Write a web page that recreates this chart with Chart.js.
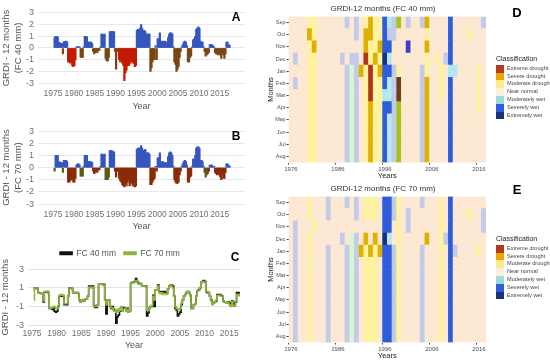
<!DOCTYPE html>
<html>
<head>
<meta charset="utf-8">
<script src="https://cdn.jsdelivr.net/npm/chart.js@4.4.0/dist/chart.umd.min.js"></script>
<style>
  body { margin: 0; width: 550px; height: 360px; position: relative; overflow: hidden; background: #fff;
         font-family: "Liberation Sans", Arial, sans-serif; }
  canvas, .lbl, .ttl, .leg { position: absolute; }
  .lbl { font-weight: bold; color: #000; transform: translate(-50%, -50%); }
  .ttl { font-size: 8px; color: #333; transform: translate(-50%, -50%); white-space: nowrap; }
  .leg { font-size: 5.6px; color: #444; line-height: 7.8px; }
  .leg .head { font-size: 7px; color: #222; margin-bottom: 2px; }
  .leg .row { height: 7.8px; white-space: nowrap; }
  .leg .key { display: inline-block; width: 8px; height: 7.8px; vertical-align: top; margin-right: 3px; }
</style>
</head>
<body>
<canvas id="chA" width="260" height="112" style="left:0px;top:0px"></canvas>
<canvas id="chB" width="260" height="114" style="left:0px;top:118px"></canvas>
<canvas id="chC" width="260" height="120" style="left:0px;top:231px"></canvas>
<canvas id="chD" width="284" height="180" style="left:266px;top:0px"></canvas>
<canvas id="chE" width="284" height="180" style="left:266px;top:180px"></canvas>

<div class="lbl" style="left:236px;top:17px;font-size:12px">A</div>
<div class="lbl" style="left:236px;top:136px;font-size:12px">B</div>
<div class="lbl" style="left:235px;top:257px;font-size:12px">C</div>
<div class="lbl" style="left:517px;top:12px;font-size:13px">D</div>
<div class="lbl" style="left:517px;top:189px;font-size:13px">E</div>
<div class="ttl" style="left:383px;top:8px">GRDI-12 months (FC 40 mm)</div>
<div class="ttl" style="left:383px;top:188px">GRDI-12 months (FC 70 mm)</div>
<div class="leg" id="legD" style="left:496px;top:55px"></div>
<div class="leg" id="legE" style="left:496px;top:235px"></div>

<script>
// GRDI-12, one value per quarter (Jan-Mar, Apr-Jun, Jul-Sep, Oct-Dec), from 1975
const firstYear = 1975;
const grdi40 = [
  null, 0.9, 1.0, 1.0,     // 1975
  0.95, 0.5, 0.45, 0.4,    // 1976
  0.4, -0.5, 0.55, 0.55,   // 1977
  0.6, 0.5, -1.2, -1.2,    // 1978
  -1.3, -1.2, -1.5, -1.6,  // 1979
  -1.5, -1.0, 0.1, 0.1,    // 1980
  0.1, 0.1, -0.8, -0.8,    // 1981
  -0.8, 0.1, 1.0, 1.0,     // 1982
  0.95, 0.5, 0.5, 0.5,     // 1983
  0.5, 0.4, -0.3, -0.5,    // 1984
  -0.4, -0.3, -0.4, -0.2,  // 1985
  -0.2, 0.1, 1.2, 1.2,     // 1986
  1.1, 1.2, -0.9, -1.1,    // 1987
  -1.1, -0.8, 1.4, 1.4,    // 1988
  1.4, 1.4, 1.4, -0.3,     // 1989
  -1.8, -0.3, -0.3, -1.0,  // 1990
  -1.2, -1.0, -1.3, -1.5,  // 1991
  -2.8, -2.1, -1.9, -1.5,  // 1992
  -1.5, -1.4, -1.1, -1.2,  // 1993
  -1.3, -1.2, -1.6, -1.5,  // 1994
  1.5, 1.6, 1.6, 1.7,      // 1995
  2.0, 1.7, 1.5, 1.5,      // 1996
  1.4, 1.2, 1.2, 1.2,      // 1997
  1.2, -2.0, -1.7, -1.2,   // 1998
  -1.0, -1.0, 0.2, -1.0,   // 1999
  0.8, 0.8, 1.3, 0.6,      // 2000
  0.5, 0.6, 0.5, 0.6,      // 2001
  0.5, 0.4, 0.9, 1.2,      // 2002
  1.3, 1.3, 1.2, 0.1,      // 2003
  -1.2, -1.4, -2.0, -1.8,  // 2004
  -1.6, -0.8, -0.3, 0.1,   // 2005
  0.3, 0.5, 0.6, 0.5,      // 2006
  0.2, -1.2, -1.2, -0.8,   // 2007
  -0.7, 0.1, 0.7, 0.8,     // 2008
  1.0, 1.6, 1.7, 1.8,      // 2009
  1.7, 0.6, 0.5, 0.5,      // 2010
  0.1, -0.3, -0.7, -0.6,   // 2011
  -0.5, -0.4, 0.3, 0.3,    // 2012
  0.3, 0.2, 0.1, -0.4,     // 2013
  -0.5, -0.5, -0.6, -0.5,  // 2014
  -0.6, -0.9, -0.4, -0.6,  // 2015
  -0.9, -0.5, 0.5, 0.5,    // 2016
  0.3, 0.2, null, null     // 2017
];
const grdi70 = [
  null, -0.3, 1.0, 1.0,    // 1975
  1.0, 0.5, 0.45, 0.4,     // 1976
  0.4, -0.4, 0.6, 0.6,     // 1977
  0.6, 0.5, -1.2, -1.2,    // 1978
  -1.1, -1.0, -1.0, -1.2,  // 1979
  -1.2, -0.9, 0.2, 0.3,    // 1980
  0.3, 0.2, -0.7, -0.7,    // 1981
  -0.7, 0.1, 1.0, 1.0,     // 1982
  1.0, 0.5, 0.5, 0.5,      // 1983
  0.5, 0.4, -0.3, -0.5,    // 1984
  -0.4, -0.3, -0.4, -0.2,  // 1985
  -0.2, 0.1, 1.1, 1.1,     // 1986
  1.0, 1.1, -1.0, -1.0,    // 1987
  -1.0, -0.8, 1.4, 1.4,    // 1988
  1.4, 1.3, 1.3, -0.3,     // 1989
  -0.8, -0.3, -0.3, -0.9,  // 1990
  -1.1, -1.2, -1.4, -1.5,  // 1991
  -1.6, -1.3, -1.5, -1.2,  // 1992
  -1.0, -1.5, -1.3, -1.2,  // 1993
  -1.5, -1.3, -1.6, -1.5,  // 1994
  1.5, 1.6, 1.6, 1.6,      // 1995
  1.8, 1.6, 1.4, 1.4,      // 1996
  1.5, 1.2, 1.2, 1.2,      // 1997
  1.1, -1.4, -1.4, -1.2,   // 1998
  -1.0, -0.9, 0.1, -0.3,   // 1999
  0.8, 0.8, 1.2, 0.5,      // 2000
  0.4, 0.5, 0.3, 0.4,      // 2001
  0.4, 0.3, 0.9, 1.2,      // 2002
  1.3, 1.2, 1.0, 0.1,      // 2003
  -1.0, -1.2, -1.3, -1.3,  // 2004
  -1.2, -0.6, -0.3, 0.1,   // 2005
  0.3, 0.5, 0.6, 0.5,      // 2006
  0.2, -1.2, -1.2, -0.8,   // 2007
  -0.7, 0.1, 0.7, 0.7,     // 2008
  1.0, 1.6, 1.7, 1.7,      // 2009
  1.6, 0.6, 0.6, 0.5,      // 2010
  0.1, -0.4, -0.8, -0.6,   // 2011
  -0.5, -0.3, 0.2, 0.2,    // 2012
  0.2, 0.1, 0.1, -0.4,     // 2013
  -0.5, -0.6, -0.5, -0.6,  // 2014
  -0.8, -1.0, -0.5, -0.9,  // 2015
  -0.9, -0.4, 0.3, 0.3,    // 2016
  0.2, 0.1, null, null     // 2017
];
const yearTicks = [1975, 1980, 1985, 1990, 1995, 2000, 2005, 2010, 2015];
const gridTicksAB = [-3, -2, -1, 0, 1, 2, 3];
const gridTicksC = [-3, -1, 1, 3];
const redSpans40 = [[1978.5, 1980.5], [1990.75, 1995]];
const oliveSpans70 = [[1975, 1975.5], [1977.25, 1977.5], [1981.5, 1982.25], [1987.5, 1988.5], [2011, 2012.25]];

// heat maps: one column per year, one letter per month (Sep ... Aug)
const months = ['Sep', 'Oct', 'Nov', 'Dec', 'Jan', 'Feb', 'Mar', 'Apr', 'May', 'Jun', 'Jul', 'Aug'];
const hmFirst = 1976, hmLast = 2017;
const heat40 = [
  '............', '...l.l......', '............', '............', 'ygyyyyyyyyyy', 'yygyyyyyyyyy',
  '............', '............', '............', '............', '............', '...l........',
  'l...llllllll', '...lpppppppp', 'll.lllllllll', '....g.......', 'yggryyyyyyyy', 'ggyyrrrggggg',
  'yyygyyyyyyyy', 'yygygyyyyyyy', 'bbbnbbcbbbbb', 'clbcbccbcccc', 'll..llllllll', 'o...yddooooo',
  '............', 'l.v.........', '............', '............', 'l...llllllll', 'gygyyggggggg',
  '............', '...y........', '....yyy.....', '...l........', 'bbbbcbbbbbbb', '....c.......',
  '............', '............', '.y..........', '............', '....yyyy....', 'l...........'
];
const heat70 = [
  '............', '..llllllllll', '............', '............', 'yy.yyyyyyyyy', '..y.........',
  '............', '............', 'll..llllllll', '............', '............', '...l........',
  'l...llllllll', '...ppppppppp', 'll.lllllllll', '....g.......', 'yy.gyyyyyyyy', 'yy..gyyyyyyy',
  'yy.gyyyyyyyy', '....g.......', 'bbbnbbbbbbbb', 'bbbcbbbbbbbb', 'll..llllllll', 'yyyyyyyyyyyy',
  '............', '.ll.........', '............', '............', 'l...llllllll', '...g........',
  '............', '............', 'yyyyyyyyyyyy', '...l........', 'bbbbbbbbbbbb', '....l.......',
  '............', '............', '.y..........', '............', '....y.......', '.ll.........'
];
const cellColors = {
  '.': '#fce8d3', 'y': '#fff3a2', 'g': '#e0b000', 'r': '#b03518', 'l': '#c4cbe8', 'c': '#b5e8ee',
  'p': '#d9f5d0', 'b': '#2d5cdc', 'n': '#15307d', 'o': '#a8c21c', 'd': '#6e3c18', 'v': '#3d3cc4'
};
const classNames = ['Extreme drought', 'Severe drought', 'Moderate drought', 'Near normal',
                    'Moderately wet', 'Severely wet', 'Extremely wet'];
const classColors = ['#b9391e', '#eea500', '#fde98e', '#fdeede', '#9fd9d8', '#2f5fdb', '#1b327f'];

Chart.defaults.font.family = '"Liberation Sans", Arial, sans-serif';
Chart.defaults.animation = false;

function quarterPoints(values) {
  return values.map((v, i) => ({ x: firstYear + i * 0.25 + 0.125, y: v })).filter(p => p.y !== null);
}
function inSpans(x, spans) {
  return spans.some(s => x >= s[0] && x < s[1]);
}

const yearAxisTicks = { color: '#707070', font: { size: 8.5 }, padding: 2, maxRotation: 0, minRotation: 0,
                        autoSkip: false, callback: v => String(v) };

function seriesChart(id, values, negColor, yTitle, dims) {
  const pts = quarterPoints(values);
  return new Chart(document.getElementById(id), {
    type: 'bar',
    data: {
      datasets: [{
        data: pts,
        backgroundColor: pts.map(p => p.y >= 0 ? '#3556bd' : negColor(p.x)),
        borderWidth: 0,
        barThickness: 1.6
      }]
    },
    options: {
      responsive: false,
      layout: { padding: { top: dims.top, right: dims.right, left: 0, bottom: 0 } },
      plugins: { legend: { display: false }, tooltip: { enabled: false } },
      scales: {
        x: {
          type: 'linear', min: 1974.15, max: 2018.3,
          afterBuildTicks: s => { s.ticks = yearTicks.map(v => ({ value: v })); },
          afterFit: s => { s.height = dims.xh; },
          grid: { display: false, drawTicks: false }, border: { display: false },
          ticks: yearAxisTicks,
          title: { display: true, text: 'Year', color: '#555', font: { size: 9 }, padding: 0 }
        },
        y: {
          min: -3.3, max: 3.3,
          afterBuildTicks: s => { s.ticks = gridTicksAB.map(v => ({ value: v })); },
          afterFit: s => { s.width = 38; },
          grid: { color: '#e8e8e8', drawTicks: false }, border: { display: false },
          ticks: { color: '#707070', font: { size: 9 }, padding: 4, autoSkip: false },
          title: { display: true, text: yTitle, color: '#555', font: { size: 9.5, lineHeight: 1.3 }, padding: 0 }
        }
      }
    }
  });
}

seriesChart('chA', grdi40, x => inSpans(x, redSpans40) ? '#c41a00' : '#7a4612',
            ['GRDI - 12 months', '(FC 40 mm)'], { top: 7.4, right: 15, xh: 25.4 });
seriesChart('chB', grdi70, x => inSpans(x, oliveSpans70) ? '#5d5a16' : '#8a2c08',
            ['GRDI - 12 months', '(FC 70 mm)'], { top: 9.4, right: 15, xh: 24.3 });

new Chart(document.getElementById('chC'), {
  type: 'line',
  data: {
    datasets: [
      { label: 'FC 40 mm', data: quarterPoints(grdi40), borderColor: '#111', backgroundColor: '#111',
        borderWidth: 1.6, pointRadius: 0, stepped: 'middle', order: 1 },
      { label: 'FC 70 mm', data: quarterPoints(grdi70), borderColor: '#8db53c', backgroundColor: '#8db53c',
        borderWidth: 1.6, pointRadius: 0, stepped: 'middle', order: 0 }
    ]
  },
  options: {
    responsive: false,
    layout: { padding: { top: 10, right: 20, left: 0, bottom: 0 } },
    plugins: {
      tooltip: { enabled: false },
      legend: {
        labels: { boxWidth: 12, boxHeight: 2.5, color: '#555', font: { size: 8.5 }, padding: 8,
                  sort: (a, b) => a.datasetIndex - b.datasetIndex }
      }
    },
    scales: {
      x: {
        type: 'linear', min: 1974.19, max: 2017.2,
        afterBuildTicks: s => { s.ticks = yearTicks.map(v => ({ value: v })); },
        afterFit: s => { s.height = 24; },
        grid: { display: false, drawTicks: false }, border: { display: false },
        ticks: yearAxisTicks,
        title: { display: true, text: 'Year', color: '#555', font: { size: 9 }, padding: 0 }
      },
      y: {
        min: -3.2, max: 3.2,
        afterBuildTicks: s => { s.ticks = gridTicksC.map(v => ({ value: v })); },
        afterFit: s => { s.width = 28; },
        grid: { color: '#e3e3e3', drawTicks: false }, border: { display: false },
        ticks: { color: '#707070', font: { size: 9 }, padding: 4, autoSkip: false },
        title: { display: true, text: 'GRDI - 12 months', color: '#555', font: { size: 9.5 }, padding: 0 }
      }
    }
  }
});

const hmYears = [];
for (let y = hmFirst; y <= hmLast; y++) hmYears.push(y);

function heatChart(id, rows) {
  // stacked bars: dataset 0 is the bottom row (Aug), the last one the top row (Sep)
  const datasets = months.map((m, r) => r).reverse().map(r => ({
    label: months[r],
    data: rows.map(() => 1),
    backgroundColor: rows.map(s => cellColors[s[r]]),
    borderWidth: 0,
    barPercentage: 1,
    categoryPercentage: 1
  }));
  return new Chart(document.getElementById(id), {
    type: 'bar',
    data: { labels: hmYears, datasets },
    options: {
      responsive: false,
      layout: { padding: { top: 16.5, right: 64, left: 0, bottom: 0 } },
      plugins: { legend: { display: false }, tooltip: { enabled: false } },
      scales: {
        x: {
          stacked: true,
          afterFit: s => { s.height = 17.5; },
          grid: { drawOnChartArea: false, tickLength: 2,
                  color: c => (hmYears[c.index] - 1976) % 10 === 0 ? '#444' : 'rgba(0,0,0,0)' },
          border: { display: false },
          ticks: { autoSkip: false, maxRotation: 0, padding: 1, color: '#4d4d4d', font: { size: 6 },
                   callback: (v, i) => (hmYears[i] - 1976) % 10 === 0 ? String(hmYears[i]) : '' },
          title: { display: true, text: 'Years', color: '#222', font: { size: 7.5 }, padding: 0 }
        },
        y: {
          stacked: true, min: 0, max: 12,
          afterBuildTicks: s => { s.ticks = months.map((m, i) => ({ value: i + 0.5 })); },
          afterFit: s => { s.width = 22.6; },
          grid: { drawOnChartArea: false, tickLength: 2, color: '#444' },
          border: { display: false },
          ticks: { padding: 1, color: '#4d4d4d', font: { size: 5.5 }, autoSkip: false,
                   callback: v => months[11 - Math.floor(v)] },
          title: { display: true, text: 'Months', color: '#222', font: { size: 7.5 }, padding: 0 }
        }
      }
    }
  });
}
heatChart('chD', heat40);
heatChart('chE', heat70);

function buildLegend(id) {
  const el = document.getElementById(id);
  let html = '<div class="head">Classification</div>';
  classNames.forEach((n, i) => {
    html += '<div class="row"><span class="key" style="background:' + classColors[i] + '"></span>' + n + '</div>';
  });
  el.innerHTML = html;
}
buildLegend('legD');
buildLegend('legE');
</script>
</body>
</html>
